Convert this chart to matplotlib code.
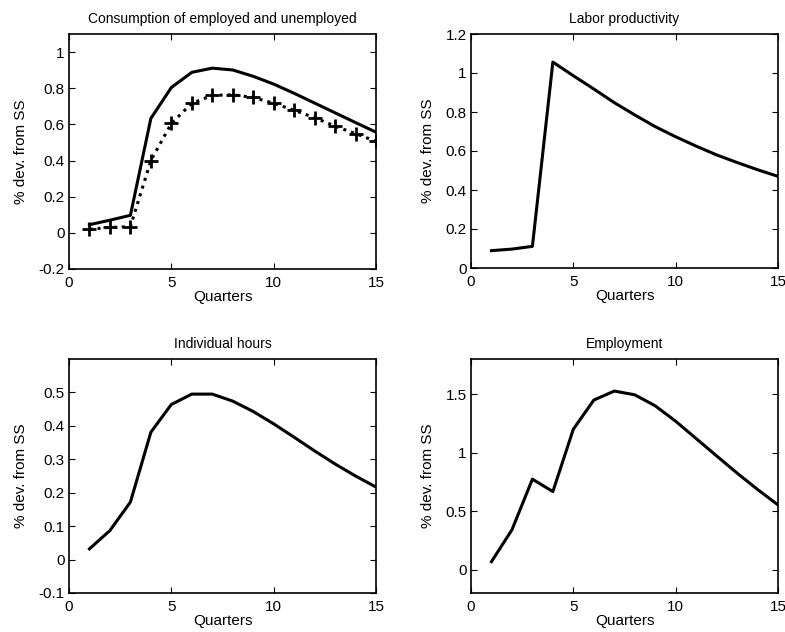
import matplotlib
matplotlib.use("Agg")
import matplotlib.pyplot as plt

quarters = list(range(1, 16))
cons_employed = [0.045, 0.07, 0.097, 0.633, 0.804, 0.888, 0.911, 0.901, 0.866, 0.823, 0.772, 0.718, 0.664, 0.61, 0.557]
cons_unemployed = [0.02, 0.03, 0.034, 0.40, 0.605, 0.717, 0.76, 0.764, 0.749, 0.717, 0.678, 0.637, 0.59, 0.549, 0.506]
labor_prod = [0.089, 0.097, 0.111, 1.056, 0.986, 0.918, 0.848, 0.785, 0.725, 0.673, 0.625, 0.58, 0.541, 0.504, 0.47]
ind_hours = [0.032, 0.087, 0.172, 0.381, 0.464, 0.495, 0.495, 0.474, 0.443, 0.406, 0.366, 0.325, 0.286, 0.25, 0.217]
employment = [0.068, 0.34, 0.773, 0.667, 1.20, 1.449, 1.526, 1.494, 1.40, 1.268, 1.12, 0.972, 0.825, 0.685, 0.553]

titles = ["Consumption of employed and unemployed", "Labor productivity",
          "Individual hours", "Employment"]
ylims = [(-0.2, 1.1), (0, 1.2), (-0.1, 0.6), (-0.2, 1.8)]
yticks = [[-0.2, 0, 0.2, 0.4, 0.6, 0.8, 1], [0, 0.2, 0.4, 0.6, 0.8, 1, 1.2],
          [-0.1, 0, 0.1, 0.2, 0.3, 0.4, 0.5], [0, 0.5, 1, 1.5]]
xticks = [0, 5, 10, 15]

plt.rcParams['font.family'] = ['Liberation Sans', 'DejaVu Sans']

W, H = 785, 632
fig = plt.figure(figsize=(W / 100, H / 100), dpi=100)

boxes = [(69, 34, 376, 269), (471, 34, 778, 268), (69, 359, 376, 593), (471, 359, 778, 593)]
axes = []
for (l, t, r, b) in boxes:
    ax = fig.add_axes([l / W, 1 - b / H, (r - l) / W, (b - t) / H])
    axes.append(ax)

lw = 2.2
axes[0].plot(quarters, cons_employed, color='black', lw=lw)
axes[0].plot(quarters, cons_unemployed, color='black', lw=lw, linestyle=':',
             marker='+', markersize=10, markeredgewidth=2)
axes[1].plot(quarters, labor_prod, color='black', lw=lw)
axes[2].plot(quarters, ind_hours, color='black', lw=lw)
axes[3].plot(quarters, employment, color='black', lw=lw)

def fmt(v):
    return '%g' % v

for i, ax in enumerate(axes):
    ax.set_xlim(0, 15)
    ax.set_ylim(*ylims[i])
    ax.set_xticks(xticks)
    ax.set_yticks(yticks[i])
    ax.set_yticklabels([fmt(v) for v in yticks[i]])
    ax.tick_params(direction='in', top=True, right=True, labelsize=11, length=4, width=0.8)
    ax.tick_params(axis='x', pad=5)
    ax.tick_params(axis='y', pad=3)
    for sp in ax.spines.values():
        sp.set_linewidth(1.2)
    ax.set_title(titles[i], fontsize=10, pad=8)
    ax.set_xlabel("Quarters", fontsize=11, labelpad=0)
    ax.set_ylabel("% dev. from SS", fontsize=11, labelpad=8)

fig.savefig("out.png", dpi=100)
